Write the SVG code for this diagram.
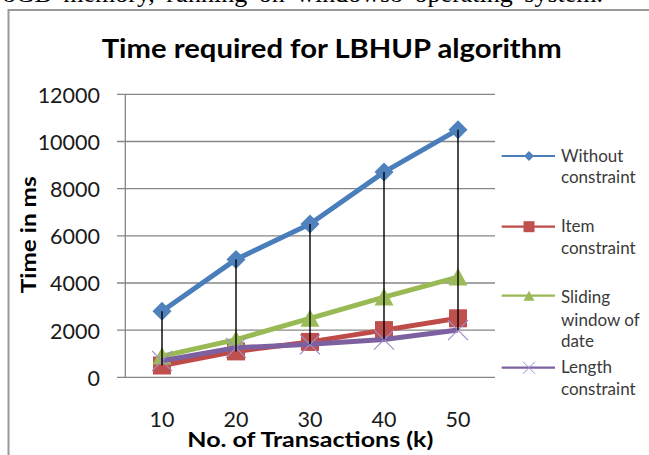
<svg xmlns="http://www.w3.org/2000/svg" width="649" height="455" viewBox="0 0 649 455">
  <style>
    .grid { stroke: #868686; stroke-width: 1.3; fill: none; }
    .tick { font-family: Lato, "Liberation Sans", sans-serif; font-size: 21.5px; fill: #1a1a1a; }
    .axt { font-family: Lato, "Liberation Sans", sans-serif; font-size: 21px; font-weight: bold; fill: #000; }
    .leg { font-family: Lato, "Liberation Sans", sans-serif; font-size: 17px; fill: #3a3a3a; }
    .s-blue { stroke: #4A7EBB; }
    .s-red { stroke: #BE4B48; }
    .s-green { stroke: #98B954; }
    .s-purple { stroke: #7D60A0; }
    .series { fill: none; stroke-width: 5; stroke-linejoin: round; }
    .legline { fill: none; stroke-width: 2.2; }
    .hilo { stroke: #000; stroke-width: 1.4; }
  </style>
  <defs>
    <path id="dia" d="M0,-9.5 L9.5,0 L0,9.5 L-9.5,0 Z" fill="#4F81BD"/>
    <rect id="sq" x="-9" y="-9" width="18" height="18" fill="#C0504D"/>
    <path id="tri" d="M0,-9 L9.5,8.5 L-9.5,8.5 Z" fill="#9BBB59"/>
    <path id="ex" d="M-10,-10 L10,10 M-10,10 L10,-10" stroke="#A08ECB" stroke-width="1.2" fill="none"/>
    <path id="dia-s" d="M0,-5 L5,0 L0,5 L-5,0 Z" fill="#4F81BD"/>
    <rect id="sq-s" x="-5.5" y="-5.5" width="11" height="11" fill="#C0504D"/>
    <path id="tri-s" d="M0,-5 L5.5,5 L-5.5,5 Z" fill="#9BBB59"/>
    <path id="ex-s" d="M-6,-6 L6,6 M-6,6 L6,-6" stroke="#A08ECB" stroke-width="1" fill="none"/>
  </defs>

  <rect width="649" height="455" fill="#fff"/>

  <!-- caption line above the figure (justified body text) -->
  <text x="603" y="2" text-anchor="end" font-family="'Liberation Serif', serif" font-size="26" word-spacing="5">8GB memory, running on windows8 operating system.</text>

  <!-- figure frame -->
  <path d="M8.5,455 V10 H649" fill="none" stroke="#9a9a9a" stroke-width="2"/>

  <!-- title -->
  <text x="101.7" y="58.3" textLength="460" lengthAdjust="spacingAndGlyphs" font-family="Lato, 'Liberation Sans', sans-serif" font-size="26" font-weight="bold">Time required for LBHUP algorithm</text>

  <!-- gridlines, ticks and axes -->
  <g id="axes">
    <path class="grid" d="M117,94.3 H495 M117,141.5 H495 M117,188.7 H495 M117,235.8 H495 M117,283 H495 M117,330.1 H495 M117,377.3 H495"/>
    <path class="grid" d="M125.3,94.3 V377.3"/>
    <g class="tick" text-anchor="end">
      <text x="100" y="102.7">12000</text>
      <text x="100" y="149.9">10000</text>
      <text x="100" y="197.1">8000</text>
      <text x="100" y="244.2">6000</text>
      <text x="100" y="291.4">4000</text>
      <text x="100" y="338.5">2000</text>
      <text x="100" y="385.7">0</text>
    </g>
    <g class="tick" text-anchor="middle">
      <text x="162" y="426.7">10</text>
      <text x="236" y="426.7">20</text>
      <text x="310" y="426.7">30</text>
      <text x="384" y="426.7">40</text>
      <text x="458" y="426.7">50</text>
    </g>
    <text class="axt" x="187.3" y="446.7" textLength="246" lengthAdjust="spacingAndGlyphs">No. of Transactions (k)</text>
    <text class="axt" transform="translate(36,293.3) rotate(-90)" textLength="117" lengthAdjust="spacingAndGlyphs">Time in ms</text>
  </g>

  <!-- data series -->
  <g id="series-without">
    <polyline class="series s-blue" points="162,311.3 236,259.4 310,224 384,172.1 458,129.7"/>
    <use href="#dia" x="162" y="311.3"/><use href="#dia" x="236" y="259.4"/><use href="#dia" x="310" y="224"/><use href="#dia" x="384" y="172.1"/><use href="#dia" x="458" y="129.7"/>
  </g>
  <g id="series-item">
    <polyline class="series s-red" points="162,365.5 236,351.4 310,341.9 384,330.1 458,318.3"/>
    <use href="#sq" x="162" y="365.5"/><use href="#sq" x="236" y="351.4"/><use href="#sq" x="310" y="341.9"/><use href="#sq" x="384" y="330.1"/><use href="#sq" x="458" y="318.3"/>
  </g>
  <g id="series-sliding">
    <polyline class="series s-green" points="162,356.1 236,339.6 310,318.3 384,297.1 458,277.1"/>
    <use href="#tri" x="162" y="356.1"/><use href="#tri" x="236" y="339.6"/><use href="#tri" x="310" y="318.3"/><use href="#tri" x="384" y="297.1"/><use href="#tri" x="458" y="277.1"/>
  </g>
  <g id="series-length">
    <polyline class="series s-purple" points="162,360.8 236,347.8 310,344.3 384,339.6 458,330.1"/>
    <use href="#ex" x="162" y="360.8"/><use href="#ex" x="236" y="347.8"/><use href="#ex" x="310" y="344.3"/><use href="#ex" x="384" y="339.6"/><use href="#ex" x="458" y="330.1"/>
  </g>

  <!-- high-low lines -->
  <g id="connectors">
    <path class="hilo" d="M162,311.3 V365.5 M236,259.4 V351.4 M310,224 V344.3 M384,172.1 V339.6 M458,129.7 V330.1"/>
  </g>

  <!-- legend -->
  <g id="legend-without">
    <path class="legline s-blue" d="M501.7,156 H555"/>
    <use href="#dia-s" x="529" y="156"/>
    <text class="leg" x="561" y="161.7">Without</text>
    <text class="leg" x="561" y="183.3">constraint</text>
  </g>
  <g id="legend-item">
    <path class="legline s-red" d="M501.7,226.7 H555"/>
    <use href="#sq-s" x="529" y="226.7"/>
    <text class="leg" x="561" y="231.7">Item</text>
    <text class="leg" x="561" y="254">constraint</text>
  </g>
  <g id="legend-sliding">
    <path class="legline s-green" d="M501.7,295.7 H555"/>
    <use href="#tri-s" x="529" y="295.7"/>
    <text class="leg" x="561" y="303.3">Sliding</text>
    <text class="leg" x="561" y="325.7">window of</text>
    <text class="leg" x="561" y="346.7">date</text>
  </g>
  <g id="legend-length">
    <path class="legline s-purple" d="M501.7,367.7 H555"/>
    <use href="#ex-s" x="529" y="367.7"/>
    <text class="leg" x="561" y="373.3">Length</text>
    <text class="leg" x="561" y="395">constraint</text>
  </g>
</svg>
